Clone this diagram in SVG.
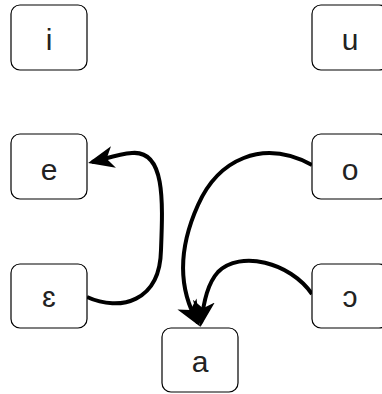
<svg xmlns="http://www.w3.org/2000/svg" width="382" height="394" viewBox="0 0 382 394">
<style>
.box{fill:#fff;stroke:#000;stroke-width:1.2}
.lbl{font-family:"Liberation Sans",Arial,sans-serif;font-size:30px;fill:#222;text-anchor:middle}
.edge{fill:none;stroke:#000;stroke-width:4}
</style>
<defs>
<marker id="arr" viewBox="0 0 26 22" refX="22" refY="11" markerWidth="26" markerHeight="22" markerUnits="userSpaceOnUse" orient="auto">
<path d="M0,0 L26,11 L0,22 L7,11 Z" fill="#000"/>
</marker>
</defs>
<rect width="382" height="394" fill="#fff"/>
<g id="edges">
<path class="edge" marker-end="url(#arr)" d="M87 297 C120 312 160 302 161 250 C163 200 165 150 132 153 C118 154 105 159 92 162"/>
<path class="edge" marker-end="url(#arr)" d="M312 165 C262 138 218 160 198 205 C180 245 176 285 198 323"/>
<path class="edge" marker-end="url(#arr)" d="M312 294 C290 262 240 250 218 272 C208 283 204 300 201 323"/>
</g>
<g id="node-i"><rect class="box" x="11" y="5" width="76" height="65" rx="9"/><text class="lbl" x="49" y="50">i</text></g>
<g id="node-u"><rect class="box" x="312" y="5" width="76" height="65" rx="9"/><text class="lbl" x="350" y="50">u</text></g>
<g id="node-e"><rect class="box" x="11" y="134" width="76" height="65" rx="9"/><text class="lbl" x="49" y="180">e</text></g>
<g id="node-o"><rect class="box" x="312" y="134" width="76" height="65" rx="9"/><text class="lbl" x="350" y="180">o</text></g>
<g id="node-epsilon"><rect class="box" x="11" y="264" width="76" height="64" rx="9"/><text class="lbl" x="49" y="307">ɛ</text></g>
<g id="node-openo"><rect class="box" x="312" y="264" width="76" height="64" rx="9"/><text class="lbl" x="350" y="307">ɔ</text></g>
<g id="node-a"><rect class="box" x="162" y="328" width="76" height="64" rx="9"/><text class="lbl" x="200" y="372">a</text></g>
</svg>
